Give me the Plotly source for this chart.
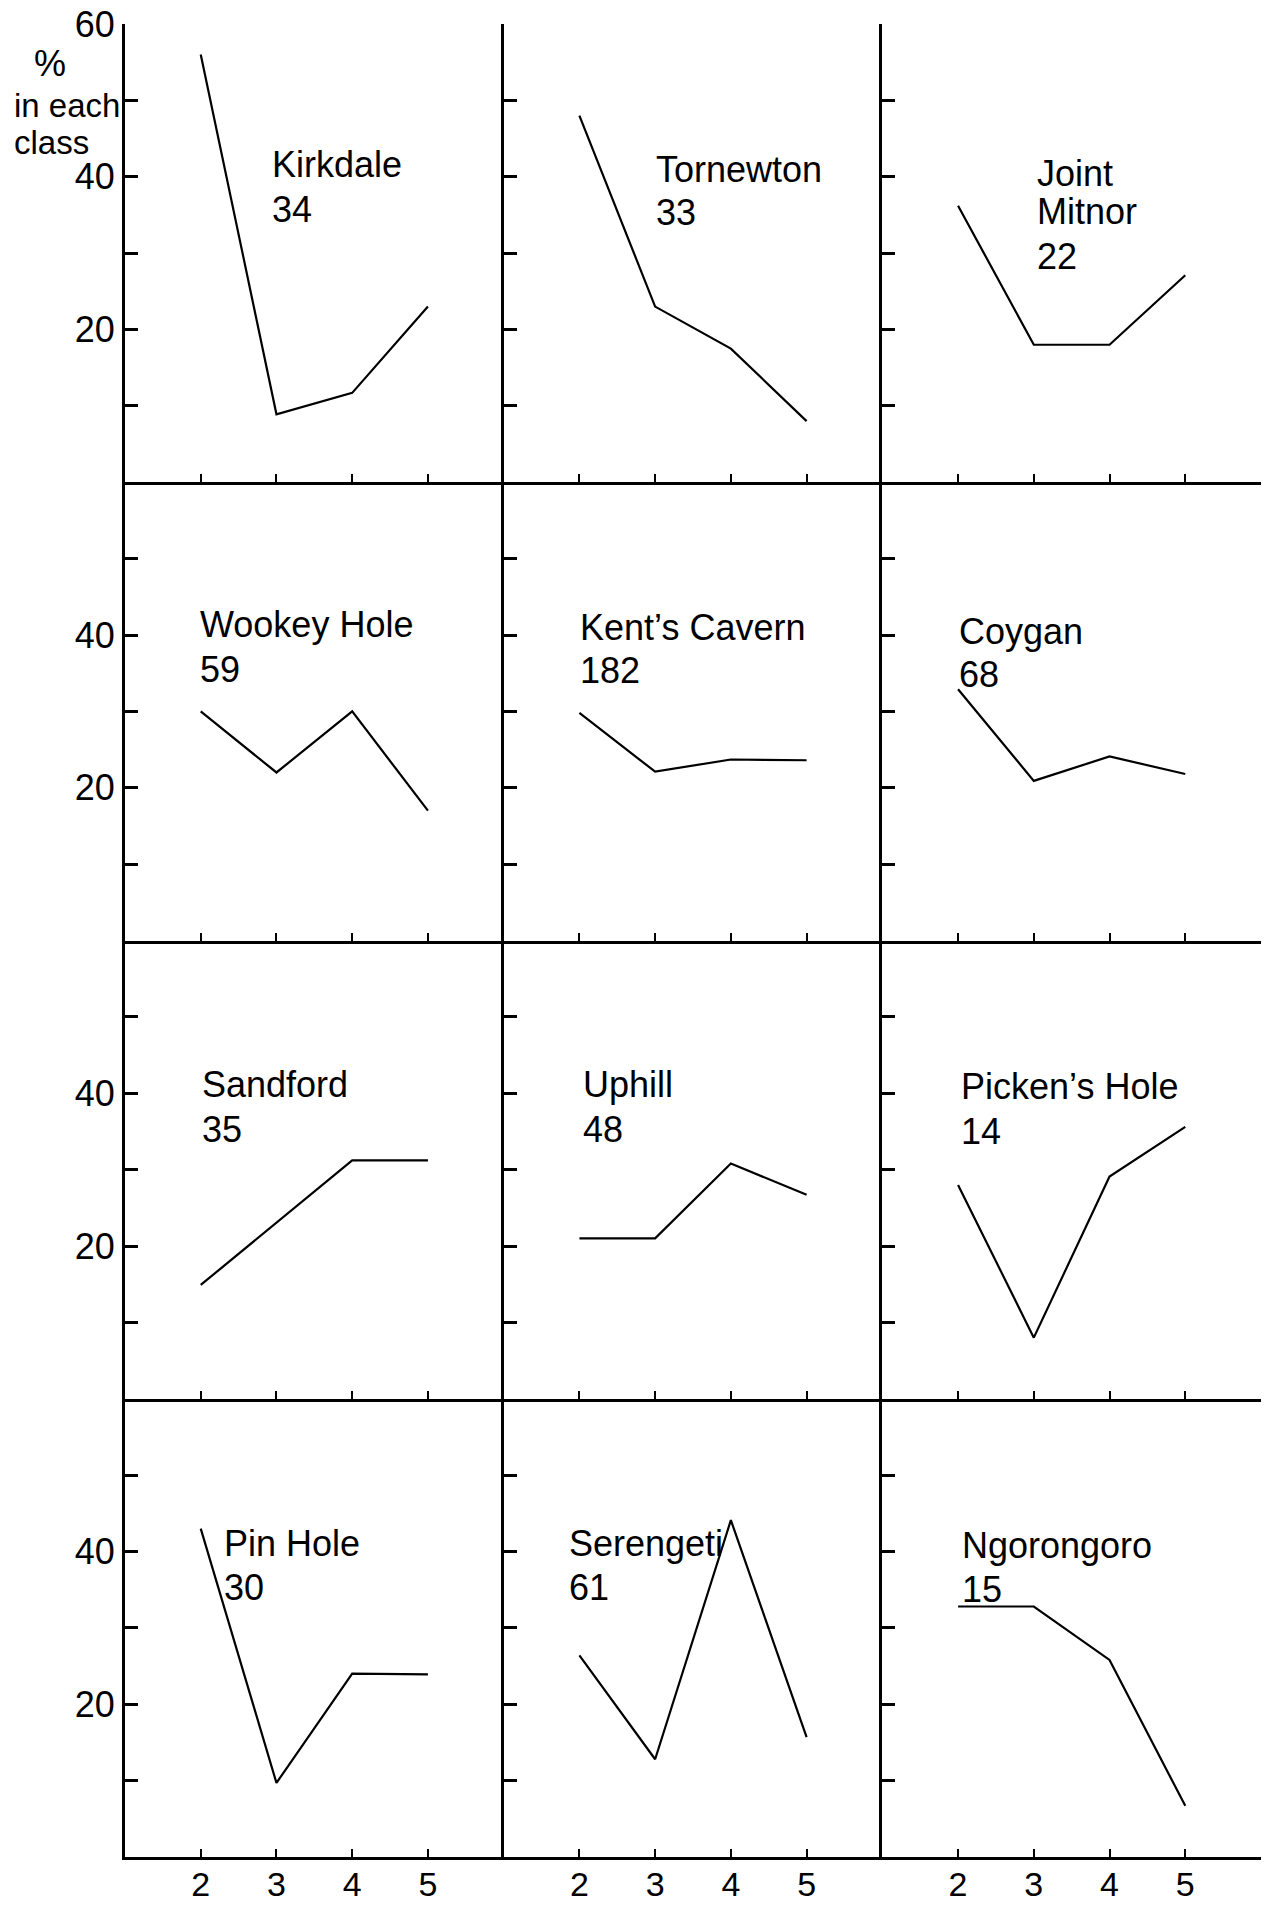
import plotly.graph_objects as go
from plotly.subplots import make_subplots

# Size classes on the horizontal axis
classes = [2, 3, 4, 5]

# Percentage of specimens in each class, one list per site
kirkdale = [56.0, 8.9, 11.7, 23.0]
tornewton = [48.0, 23.0, 17.5, 8.0]
joint_mitnor = [36.2, 18.0, 18.0, 27.1]
wookey_hole = [30.0, 22.0, 30.0, 17.0]
kents_cavern = [29.8, 22.1, 23.7, 23.6]
coygan = [32.9, 20.9, 24.1, 21.8]
sandford = [14.9, 23.0, 31.2, 31.2]
uphill = [21.0, 21.0, 30.8, 26.7]
pickens_hole = [28.0, 8.0, 29.1, 35.6]
pin_hole = [43.0, 9.7, 24.0, 23.9]
serengeti = [26.4, 12.8, 44.1, 15.7]
ngorongoro = [32.8, 32.8, 25.8, 6.7]

# Site name lines and sample sizes, in grid order (row by row)
site_names = [
    ["Kirkdale"], ["Tornewton"], ["Joint", "Mitnor"],
    ["Wookey Hole"], ["Kent\u2019s Cavern"], ["Coygan"],
    ["Sandford"], ["Uphill"], ["Picken\u2019s Hole"],
    ["Pin Hole"], ["Serengeti"], ["Ngorongoro"],
]
sample_sizes = [34, 33, 22, 59, 182, 68, 35, 48, 14, 30, 61, 15]
series = [kirkdale, tornewton, joint_mitnor, wookey_hole, kents_cavern, coygan,
          sandford, uphill, pickens_hole, pin_hole, serengeti, ngorongoro]

# Where each panel's caption sits (class-axis x, then the y of each text line)
caption_x = [2.92, 2.99, 3.02, 1.97, 1.98, 1.99, 1.99, 2.02, 2.01, 2.28, 1.83, 2.02]
caption_y = [
    [41.6, 35.7], [41.0, 35.3], [40.4, 35.5, 29.5],
    [41.4, 35.5], [41.0, 35.4], [40.5, 34.8],
    [41.2, 35.2], [41.1, 35.3], [40.9, 35.0],
    [41.0, 35.3], [41.0, 35.3], [40.8, 35.0],
]

y_tick_vals = [10, 20, 30, 40, 50, 60]
y_tick_text_top = ["", "20", "", "40", "", "60"]
y_tick_text = ["", "20", "", "40", "", ""]

FONT = "Liberation Sans, Arial, Helvetica, sans-serif"
INK = "black"

fig = make_subplots(rows=4, cols=3, horizontal_spacing=0, vertical_spacing=0)

for i, values in enumerate(series):
    r, c = i // 3 + 1, i % 3 + 1
    fig.add_trace(
        go.Scatter(x=classes, y=values, mode="lines",
                   line=dict(color=INK, width=2.2), showlegend=False,
                   hoverinfo="skip"),
        row=r, col=c,
    )
    lines = site_names[i] + [str(sample_sizes[i])]
    for text, yv in zip(lines, caption_y[i]):
        fig.add_annotation(
            x=caption_x[i], y=yv, text=text, showarrow=False,
            xanchor="left", yanchor="middle",
            font=dict(family=FONT, size=36, color=INK),
            row=r, col=c,
        )
    fig.update_xaxes(
        range=[1, 6], tickvals=classes, ticks="inside", ticklen=8, tickwidth=2,
        tickcolor=INK, showline=True, linewidth=3, linecolor=INK,
        showgrid=False, zeroline=False, showticklabels=(r == 4),
        tickfont=dict(family=FONT, size=34, color=INK), ticklabelstandoff=-5,
        automargin=False, fixedrange=True, row=r, col=c,
    )
    fig.update_yaxes(
        range=[0, 60], tickvals=y_tick_vals,
        ticktext=y_tick_text_top if r == 1 else y_tick_text,
        ticks="inside", ticklen=13, tickwidth=3, tickcolor=INK,
        showline=True, linewidth=3, linecolor=INK, showgrid=False,
        zeroline=False, showticklabels=(c == 1),
        tickfont=dict(family=FONT, size=36, color=INK), ticklabelstandoff=0,
        automargin=False, fixedrange=True, row=r, col=c,
    )

# Axis caption in the top-left corner
fig.add_annotation(xref="paper", yref="paper", x=-0.066, y=0.9782, text="%",
                   showarrow=False, xanchor="center", yanchor="middle",
                   font=dict(family=FONT, size=36, color=INK))
fig.add_annotation(xref="paper", yref="paper", x=-0.0995, y=0.9558, text="in each",
                   showarrow=False, xanchor="left", yanchor="middle",
                   font=dict(family=FONT, size=33, color=INK))
fig.add_annotation(xref="paper", yref="paper", x=-0.0995, y=0.9351, text="class",
                   showarrow=False, xanchor="left", yanchor="middle",
                   font=dict(family=FONT, size=33, color=INK))

fig.update_layout(
    width=1276, height=1908,
    margin=dict(l=125, r=15, t=24, b=51, autoexpand=False),
    paper_bgcolor="white", plot_bgcolor="white",
    font=dict(family=FONT, color=INK),
)

fig.write_html("out.html", config={"displayModeBar": False})
